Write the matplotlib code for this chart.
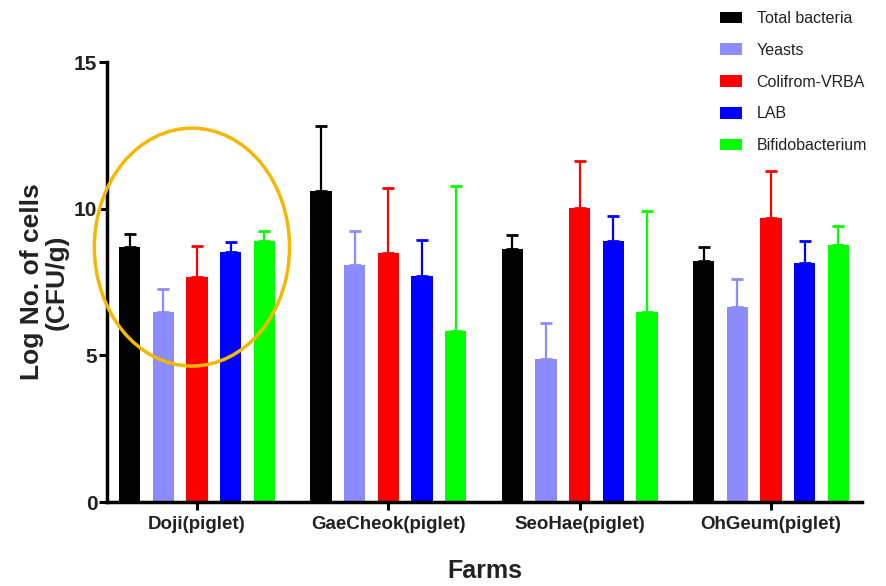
import matplotlib
matplotlib.use("Agg")
import matplotlib.pyplot as plt
import numpy as np
from matplotlib.patches import Ellipse

plt.rcParams['font.family'] = ['Liberation Sans', 'DejaVu Sans']

farms = ["Doji(piglet)", "GaeCheok(piglet)", "SeoHae(piglet)", "OhGeum(piglet)"]
series = ["Total bacteria", "Yeasts", "Colifrom-VRBA", "LAB", "Bifidobacterium"]
colors = ["#000000", "#8C8CFF", "#FF0000", "#0000FF", "#00FF00"]

total_bacteria = [8.68, 10.60, 8.61, 8.23]
yeasts = [6.49, 8.08, 4.88, 6.64]
coliform = [7.66, 8.48, 10.02, 9.69]
lab = [8.53, 7.70, 8.90, 8.16]
bifido = [8.91, 5.82, 6.48, 8.75]

total_bacteria_err = [0.45, 2.23, 0.48, 0.45]
yeasts_err = [0.77, 1.16, 1.23, 0.96]
coliform_err = [1.08, 2.22, 1.62, 1.58]
lab_err = [0.32, 1.23, 0.86, 0.73]
bifido_err = [0.32, 4.94, 3.43, 0.66]

values = [total_bacteria, yeasts, coliform, lab, bifido]
errors = [total_bacteria_err, yeasts_err, coliform_err, lab_err, bifido_err]

fig = plt.figure(figsize=(8.87, 5.86), dpi=100)
ax = fig.add_axes([107/887, 1-502/586, (862-107)/887, (502-62)/586])

x = np.arange(len(farms))
step = 0.176
width = 0.112
handles = []
for i, (vals, errs, c, name) in enumerate(zip(values, errors, colors, series)):
    pos = x + (i - 2) * step
    b = ax.bar(pos, vals, width=width, color=c, label=name, zorder=2)
    ax.errorbar(pos, vals, yerr=[np.zeros(len(errs)), errs], fmt='none',
                ecolor=c, elinewidth=1.6, capsize=4, capthick=2, zorder=1)
    handles.append(b)

ax.set_xlim(-0.47, 3.476)
ax.set_ylim(0, 15)
ax.set_yticks([0, 5, 10, 15])
ax.set_xticks(x)
ax.set_xticklabels(farms, fontsize=13.5, fontweight='bold', color='#222222')
for lbl in ax.get_yticklabels():
    lbl.set_fontsize(15)
    lbl.set_fontweight('bold')
    lbl.set_color('#222222')

ax.spines['top'].set_visible(False)
ax.spines['right'].set_visible(False)
ax.spines['left'].set_linewidth(2.5)
ax.spines['bottom'].set_linewidth(2.5)
ax.tick_params(axis='both', direction='out', length=6, width=2.2)
ax.tick_params(axis='y', pad=1)
ax.tick_params(axis='x', pad=4)

ax.set_ylabel("Log No. of cells\n(CFU/g)", fontsize=19, fontweight='bold',
              color='#222222', labelpad=4, linespacing=1.0)
ax.set_xlabel("Farms", fontsize=18, fontweight='bold', color='#222222', labelpad=19)

ell = Ellipse((-0.026, 8.69), width=1.02, height=8.11, fill=False,
              edgecolor='#F5B800', linewidth=2.5, clip_on=False, zorder=5)
ax.add_patch(ell)

fig.legend(handles=handles, labels=series, loc='upper left',
           bbox_to_anchor=(720/887, 1-11/586), frameon=False,
           fontsize=11.5, handlelength=1.4, handleheight=0.75,
           handletextpad=0.9, labelspacing=1.05, borderpad=0,
           borderaxespad=0, labelcolor='#222222')

fig.savefig("out.png", dpi=100)
